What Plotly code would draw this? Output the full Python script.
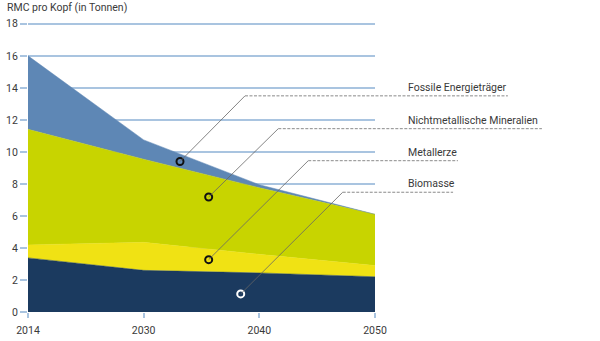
import plotly.graph_objects as go

# ---- data ----
years = ["2014", "2030", "2040", "2050"]
biomasse = [3.38, 2.60, 2.44, 2.20]
metallerze = [0.81, 1.75, 1.16, 0.70]
nichtmetall = [7.22, 5.19, 4.16, 3.20]
fossil = [4.59, 1.21, 0.19, 0.00]

series_names = ["Biomasse", "Metallerze", "Nichtmetallische Mineralien", "Fossile Energieträger"]
series_values = [biomasse, metallerze, nichtmetall, fossil]
series_colors = ["#1b3a5f", "#f0e214", "#c8d400", "#5e87b5"]

y_ticks = [0, 2, 4, 6, 8, 10, 12, 14, 16, 18]
y_title = "RMC pro Kopf (in Tonnen)"

# label callouts: name, marker (x index, y), corner (x index, y), dashed-line end (paper x), marker colour
callout_names = ["Fossile Energieträger", "Nichtmetallische Mineralien", "Metallerze", "Biomasse"]
callout_marker_x = [1.314, 1.562, 1.562, 1.839]
callout_marker_y = [9.40, 7.18, 3.27, 1.13]
callout_corner_x = [1.876, 2.164, 2.423, 2.721]
callout_corner_y = [13.5, 11.45, 9.45, 7.48]
callout_end_paper = [1.383, 1.481, 1.239, 1.225]
callout_ring = ["#111111", "#111111", "#111111", "#ffffff"]

X_MAX = len(years) - 1
Y_TOP = 18.3
LABEL_X_PAPER = 1.089

GRID = "#a9c4e0"
TEXT = "#3a3a3a"
FONT = "Roboto"

xi = list(range(len(years)))

fig = go.Figure()
for name, vals, col in zip(series_names, series_values, series_colors):
    fig.add_trace(go.Scatter(
        x=xi, y=vals, name=name, mode="lines", stackgroup="one",
        line=dict(width=0.5, color=col), fillcolor=col, hoverinfo="skip",
    ))

# callout rings
fig.add_trace(go.Scatter(
    x=callout_marker_x, y=callout_marker_y, mode="markers",
    marker=dict(symbol="circle-open", size=7, color=callout_ring, line=dict(width=2, color=callout_ring)),
    hoverinfo="skip", cliponaxis=False,
))

shapes = []
annotations = []
for name, mx, my, cx, cy, ex in zip(callout_names, callout_marker_x, callout_marker_y,
                                     callout_corner_x, callout_corner_y, callout_end_paper):
    shapes.append(dict(type="line", xref="x", yref="y", x0=mx, y0=my, x1=cx, y1=cy,
                       line=dict(color="#666666", width=0.8)))
    shapes.append(dict(type="line", xref="paper", yref="paper",
                       x0=cx / X_MAX, y0=cy / Y_TOP, x1=ex, y1=cy / Y_TOP,
                       line=dict(color="#8a8a8a", width=1, dash="3px,1.5px")))
    annotations.append(dict(text=name, xref="paper", yref="paper", x=LABEL_X_PAPER, y=cy / Y_TOP,
                            xanchor="left", yanchor="bottom", showarrow=False,
                            font=dict(family=FONT, size=10.5, color=TEXT)))

annotations.append(dict(text=y_title, xref="paper", yref="paper", x=-23 / 347, y=18 / Y_TOP,
                        xanchor="left", yanchor="bottom", yshift=8, showarrow=False,
                        font=dict(family=FONT, size=10.5, color=TEXT)))

fig.update_layout(
    width=600, height=341,
    margin=dict(l=28, r=225, t=19, b=29, pad=0, autoexpand=False),
    paper_bgcolor="white", plot_bgcolor="white",
    showlegend=False, hovermode=False,
    shapes=shapes, annotations=annotations,
    font=dict(family=FONT, size=10.5, color=TEXT),
)
fig.update_xaxes(
    range=[0, X_MAX], tickvals=xi, ticktext=years, showgrid=False, zeroline=False,
    showline=False, ticks="outside", ticklen=5, tickcolor=GRID, tickwidth=1.5,
    tickfont=dict(family=FONT, size=10.5, color=TEXT), automargin=False, ticklabelstandoff=3,
)
fig.update_yaxes(
    range=[0, Y_TOP], tickvals=y_ticks, showgrid=True, gridcolor=GRID, gridwidth=1.5,
    zeroline=False, showline=False, ticks="outside", ticklen=7, tickcolor=GRID, tickwidth=1.5,
    tickfont=dict(family=FONT, size=10.5, color=TEXT), automargin=False,
)

fig.write_html("out.html")
